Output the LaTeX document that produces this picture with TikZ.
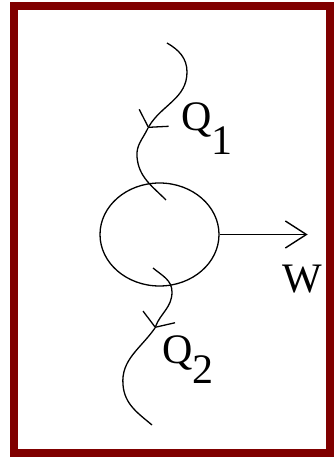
\documentclass[tikz,border=0pt]{standalone}
\usepackage{fontspec}
\setmainfont{Liberation Serif}
\definecolor{FrameRed}{HTML}{800000}
\usepackage{tikz}
\usetikzlibrary{arrows.meta, positioning, shapes.geometric}

\begin{document}
\begin{tikzpicture}[x=1pt, y=1pt,
  engine_node/.style={ellipse, draw, line width=1.3pt, minimum width=119pt, minimum height=103pt, inner sep=0pt},
  heat_line/.style={line width=1.3pt},
  heat_tip/.style={heat_line, -{Straight Barb[length=11pt, width=34pt]}},
  work_line/.style={line width=1.4pt, -{Straight Barb[length=21pt, width=27pt]}},
  label_text/.style={font=\fontsize{42}{46}\selectfont, inner sep=0pt, anchor=base west},
]
  \useasboundingbox (0,0) rectangle (334,457);
  \draw[FrameRed, line width=8pt] (14,4) rectangle (330,451);

  % engine and work output
  \node[engine_node] (engine) at (159.5,222.5) {};
  \coordinate[right=88pt of engine.east] (w_tip);
  \draw[work_line] (engine.east) -- (w_tip);
  \node[label_text] (w_lab) at (282,164) {W};

  % heat in from above
  \coordinate (q1_start) at (167,414);
  \coordinate (q1_bend) at (187,385);
  \coordinate (q1_tip) at (148,329);
  \coordinate (q1_left) at (137,300);
  \coordinate (q1_end) at (166,257);
  \draw[heat_tip] (q1_start) to[out=-30, in=90] (q1_bend) to[out=-90, in=60] (q1_tip);
  \draw[heat_line] (q1_tip) to[out=-115, in=95] (q1_left) to[out=-85, in=135] (q1_end);
  \node[label_text] (q1_lab) at (181,326) {Q\raisebox{-0.57em}{1}};

  % heat out below
  \coordinate (q2_start) at (153,189);
  \coordinate (q2_bend) at (172,165);
  \coordinate (q2_tip) at (155,129);
  \coordinate (q2_left) at (123,72);
  \coordinate (q2_end) at (152,32);
  \draw[heat_tip] (q2_start) to[out=-40, in=90] (q2_bend) to[out=-90, in=70] (q2_tip);
  \draw[heat_line] (q2_tip) to[out=-125, in=95] (q2_left) to[out=-85, in=140] (q2_end);
  \node[label_text] (q2_lab) at (162,93) {Q\raisebox{-0.46em}{2}};
\end{tikzpicture}
\end{document}
